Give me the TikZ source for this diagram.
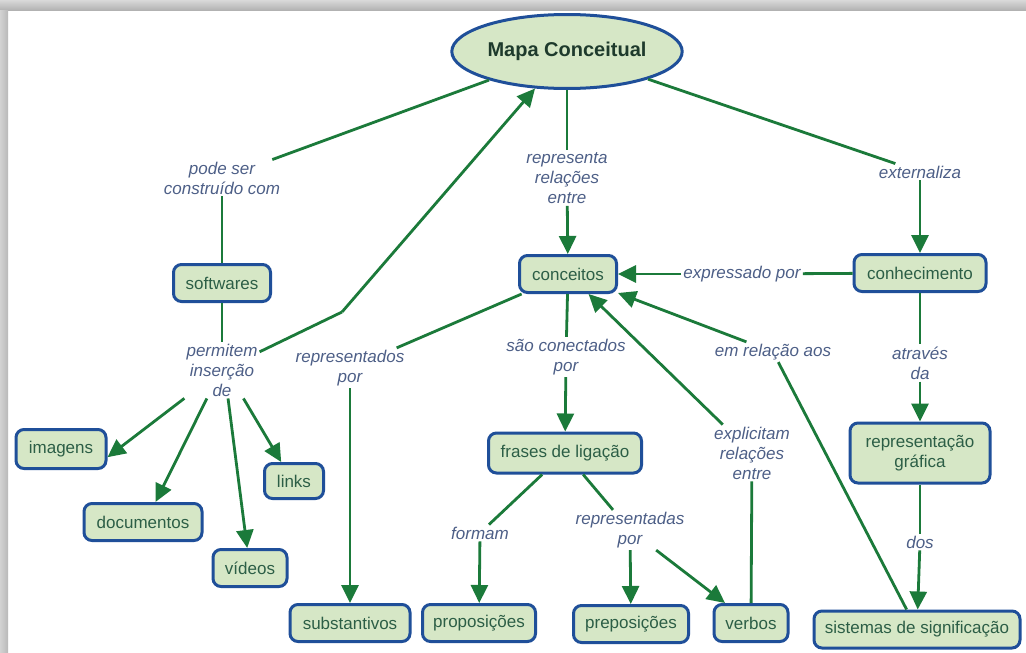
\documentclass[tikz,border=0pt]{standalone}
\usepackage{fontspec}
\setmainfont{Liberation Sans}
\usetikzlibrary{arrows.meta, shapes.geometric}
\definecolor{cmblue}{HTML}{1F4F99}
\definecolor{cmfill}{HTML}{D6E7C6}
\definecolor{cmgreen}{HTML}{1B7A3A}
\definecolor{cmtext}{HTML}{2C5E46}
\definecolor{cmtitle}{HTML}{1E3A2C}
\definecolor{cmlabel}{HTML}{4D5F87}

\begin{document}
\begin{tikzpicture}[x=1pt, y=-1pt,
        concept/.style={draw=cmblue, line width=3pt, fill=cmfill, rounded corners=8pt, text=cmtext, font=\fontsize{17}{20}\selectfont, minimum height=37pt, inner sep=2pt, align=center},
        linkword/.style={text=cmlabel, font=\itshape\fontsize{17}{20}\selectfont, inner sep=2pt, align=center},
        conn/.style={draw=cmgreen, line width=2.8pt},
        arr/.style={conn, -{Triangle[length=18pt, width=17pt]}}]
        \useasboundingbox (0,0) rectangle (1026,653);
        \fill[white] (0,0) rectangle (1026,653);
        \shade[top color=gray!30, bottom color=gray!60] (0,0) rectangle (1026,10);
        \shade[left color=gray!35, right color=gray!55] (0,10) rectangle (8,653);

        \node[concept, ellipse, minimum width=187pt, minimum height=74pt, text=cmtitle, font=\bfseries\fontsize{20}{24}\selectfont] (mapa) at (567,51.5) {Mapa Conceitual};
        \node[concept, minimum width=97pt] (softw) at (222,283) {softwares};
        \node[concept, minimum width=97pt] (conc) at (568,274) {conceitos};
        \node[concept, minimum width=132pt] (conh) at (920,273) {conhecimento};
        \node[concept, minimum width=90pt, minimum height=39pt] (imag) at (61,449) {imagens};
        \node[concept, minimum width=118pt] (docs) at (143,522) {documentos};
        \node[concept, minimum width=74pt] (vid) at (250,568) {vídeos};
        \node[concept, minimum width=59pt, minimum height=35pt] (links) at (294,481) {links};
        \node[concept, minimum width=120pt] (subst) at (350,623) {substantivos};
        \node[concept, minimum width=113pt] (propos) at (479,623) {proposições};
        \node[concept, minimum width=153pt, minimum height=40pt] (frases) at (565,453) {frases de ligação};
        \node[concept, minimum width=115pt] (prep) at (631,624) {preposições};
        \node[concept, minimum width=74pt] (verb) at (751,623) {verbos};
        \node[concept, minimum width=206pt] (sist) at (917,629.5) {sistemas de significação};
        \node[concept, minimum width=140pt, minimum height=60pt] (repgraf) at (920,453) {representação\\gráfica};

        \node[linkword] (lblpode) at (222,178) {pode ser\\construído com};
        \node[linkword] (lblperm) at (222,370) {permitem\\inserção\\de};
        \node[linkword] (lblrepdos) at (350,368) {representados\\por};
        \node[linkword] (lblrepr) at (567,178) {representa\\relações\\entre};
        \node[linkword] (lblext) at (920,172) {externaliza};
        \node[linkword] (lblexpr) at (742,274) {expressado por};
        \node[linkword] (lblsao) at (566,357) {são conectados\\por};
        \node[linkword] (lblem) at (773,352) {em relação aos};
        \node[linkword] (lblatr) at (920,363) {através\\da};
        \node[linkword] (lblexp) at (752,453) {explicitam\\relações\\entre};
        \node[linkword] (lblform) at (480,533) {formam};
        \node[linkword] (lblrepdas) at (630,530) {representadas\\por};
        \node[linkword] (lbldos) at (920,542) {dos};
        \coordinate (bend) at (342,312);

        \draw[conn] (mapa) -- (lblpode);
        \draw[conn] (lblpode) -- (softw);
        \draw[conn] (softw) -- (lblperm);
        \draw[conn] (lblperm) -- (bend);
        \draw[arr] (bend) -- (mapa);
        \draw[arr] (lblperm.-143) -- (imag.-10);
        \draw[arr] (lblperm.-118) -- (docs.58);
        \draw[arr] (lblperm.-78) -- (vid.98);
        \draw[arr] (lblperm.-53) -- (links.124);
        \draw[conn] (conc) -- (lblrepdos);
        \draw[arr] (lblrepdos) -- (subst);
        \draw[conn] (mapa) -- (lblrepr);
        \draw[arr] (lblrepr) -- (conc);
        \draw[conn] (mapa) -- (lblext);
        \draw[arr] (lblext) -- (conh);
        \draw[conn] (conh) -- (lblexpr);
        \draw[arr] (lblexpr) -- (conc);
        \draw[conn] (conc) -- (lblsao);
        \draw[arr] (lblsao) -- (frases);
        \draw[conn] (sist) -- (lblem);
        \draw[arr] (lblem) -- (conc);
        \draw[conn] (verb) -- (lblexp);
        \draw[arr] (lblexp) -- (conc);
        \draw[conn] (conh) -- (lblatr);
        \draw[arr] (lblatr) -- (repgraf);
        \draw[conn] (repgraf) -- (lbldos);
        \draw[arr] (lbldos) -- (sist);
        \draw[conn] (frases) -- (lblform);
        \draw[arr] (lblform) -- (propos);
        \draw[conn] (frases) -- (lblrepdas);
        \draw[arr] (lblrepdas) -- (prep);
        \draw[arr] (lblrepdas) -- (verb);
      \end{tikzpicture}
\end{document}
